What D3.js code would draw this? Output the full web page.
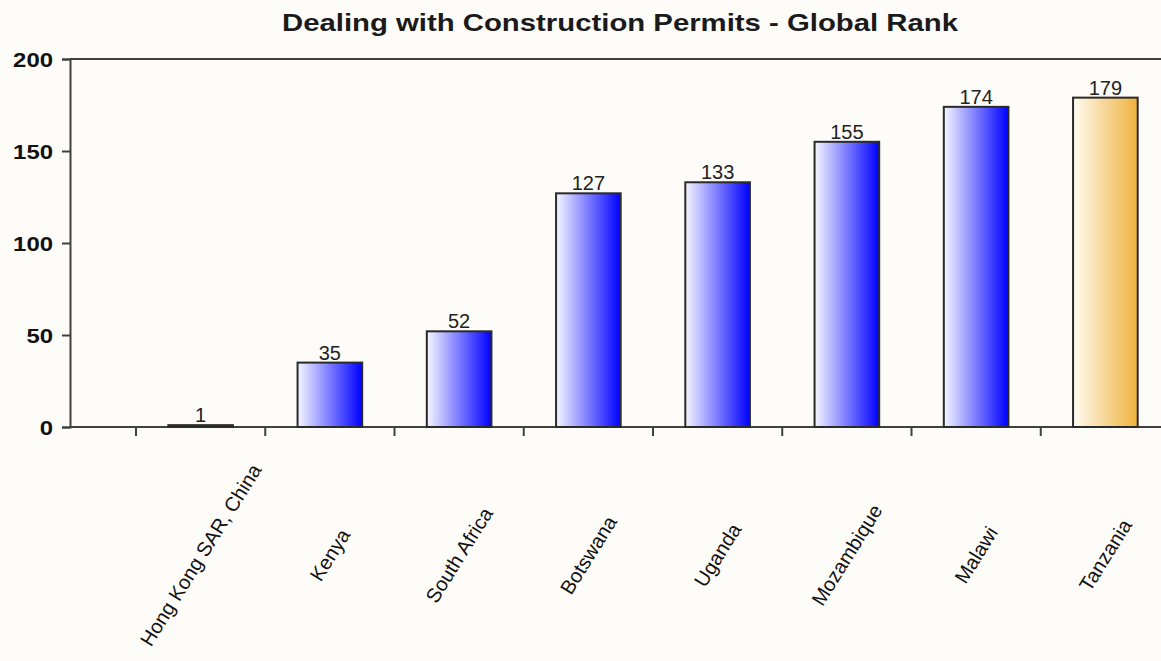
<!DOCTYPE html>
<html>
<head>
<meta charset="utf-8">
<script src="https://cdn.jsdelivr.net/npm/d3@7"></script>
<style>
  body { margin: 0; background: #fdfcf9; }
  svg { display: block; }
  text { font-family: "Liberation Sans", Arial, sans-serif; }
</style>
</head>
<body>
<svg id="chart" width="1161" height="661"></svg>
<script>
var countries = ["Hong Kong SAR, China","Kenya","South Africa","Botswana","Uganda","Mozambique","Malawi","Tanzania"];
var ranks = [1,35,52,127,133,155,174,179];
var highlight = ["Tanzania"];
var yTicks = [0,50,100,150,200];

var svg = d3.select("#chart");
var plotLeft = 70, plotTop = 59, plotBottom = 427;

var x = d3.scaleBand()
    .domain(countries)
    .range([136,1170])
    .paddingInner(0.5)
    .paddingOuter(0.25);

var y = d3.scaleLinear().domain([0,200]).range([plotBottom,plotTop]);

var defs = svg.append("defs");
function grad(id,c0,c1){
    var g = defs.append("linearGradient").attr("id",id)
        .attr("x1","0%").attr("x2","100%").attr("y1","0%").attr("y2","0%");
    g.append("stop").attr("offset","0%").attr("stop-color",c0);
    g.append("stop").attr("offset","100%").attr("stop-color",c1);
}
grad("blueGrad","#f6f6ff","#0000ff");
grad("orangeGrad","#fffbf2","#efb23c");

svg.append("rect").attr("width",1161).attr("height",661).attr("fill","#fdfcf9");

// title (stretched a bit like the original)
svg.append("text")
    .attr("x",620).attr("y",31)
    .attr("text-anchor","middle")
    .attr("font-weight","bold")
    .attr("font-size","24px")
    .attr("textLength",676)
    .attr("lengthAdjust","spacingAndGlyphs")
    .attr("fill","#1a1a1a")
    .text("Dealing with Construction Permits - Global Rank");

// frame top line
svg.append("line").attr("x1",plotLeft).attr("x2",1175).attr("y1",plotTop).attr("y2",plotTop)
    .attr("stroke","#404040").attr("stroke-width",2);

// y axis
var yAxis = d3.axisLeft(y).tickValues(yTicks).tickSize(8).tickPadding(9);
var yg = svg.append("g").attr("transform","translate(" + plotLeft + ",0)").call(yAxis);
yg.select(".domain").attr("stroke","#404040").attr("stroke-width",2);
yg.selectAll(".tick line").attr("stroke","#404040").attr("stroke-width",2);
yg.selectAll(".tick text")
    .attr("font-family","'Liberation Sans', Arial, sans-serif")
    .attr("font-weight","bold")
    .attr("font-size","21px")
    .attr("fill","#111")
    .attr("dy","0.35em")
    .attr("textLength",function(d){return String(d).length*13.3;})
    .attr("lengthAdjust","spacingAndGlyphs");

// x axis line + ticks at band boundaries
var step = x.step();
svg.append("line").attr("x1",plotLeft).attr("x2",1175).attr("y1",plotBottom).attr("y2",plotBottom)
    .attr("stroke","#404040").attr("stroke-width",2);
svg.selectAll(".xtick")
    .data(countries)
    .enter()
    .append("line")
    .attr("class","xtick")
    .attr("x1",function(d){return x(d) - step*0.25;})
    .attr("x2",function(d){return x(d) - step*0.25;})
    .attr("y1",plotBottom).attr("y2",plotBottom+9)
    .attr("stroke","#404040").attr("stroke-width",2);

// bars
svg.selectAll(".bar")
    .data(countries)
    .enter()
    .append("rect")
    .attr("class","bar")
    .attr("x",function(d){return x(d);})
    .attr("width",x.bandwidth())
    .attr("y",function(d,i){return y(ranks[i]);})
    .attr("height",function(d,i){return plotBottom - y(ranks[i]);})
    .attr("fill",function(d){return highlight.indexOf(d) >= 0 ? "url(#orangeGrad)" : "url(#blueGrad)";})
    .attr("stroke","#2a2a2a")
    .attr("stroke-width",2);

// value labels
svg.selectAll(".val")
    .data(countries)
    .enter()
    .append("text")
    .attr("class","val")
    .attr("x",function(d){return x(d) + x.bandwidth()/2;})
    .attr("y",function(d,i){return y(ranks[i]) - 3;})
    .attr("text-anchor","middle")
    .attr("font-size","20px")
    .attr("fill","#222")
    .text(function(d,i){return ranks[i];});

// category labels
svg.selectAll(".cat")
    .data(countries)
    .enter()
    .append("text")
    .attr("class","cat")
    .attr("transform",function(d){
        return "translate(" + (x(d) + x.bandwidth()/2) + ",555) rotate(-58)";
    })
    .attr("text-anchor","middle")
    .attr("dy","0.35em")
    .attr("font-size","20px")
    .attr("fill","#111")
    .text(function(d){return d;});
</script>
</body>
</html>
